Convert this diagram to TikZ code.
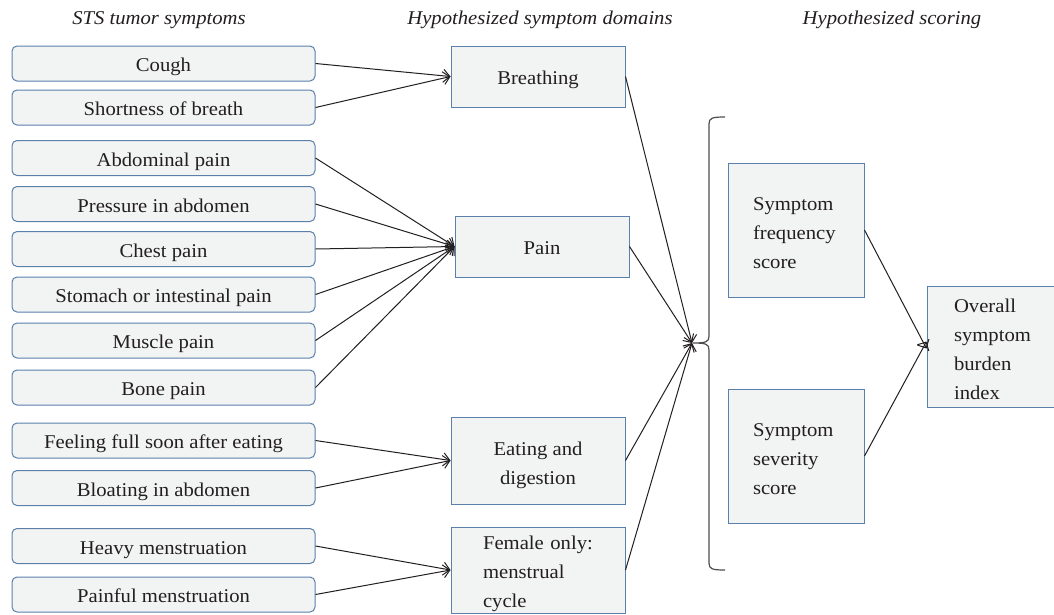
\documentclass[tikz,border=0pt]{standalone}
\usepackage{fontspec}
\setmainfont[FakeStretch=1.06]{Liberation Serif}
\usetikzlibrary{arrows.meta}
\definecolor{boxfill}{HTML}{F2F3F3}
\definecolor{boxline}{HTML}{5B80AC}
\definecolor{ink}{HTML}{231F20}
\newcommand{\topgap}[1]{\rule{0pt}{#1}}
\begin{document}
\begin{tikzpicture}[x=1pt,y=-1pt,
  every node/.style={font=\fontsize{19.5}{29}\selectfont, text=ink},
  sym/.style={draw=boxline, fill=boxfill, line width=1pt, rounded corners=5pt,
    minimum width=303pt, minimum height=35pt, inner sep=0pt,
    text height=16pt, text depth=0pt},
  dom/.style={draw=boxline, fill=boxfill, line width=1pt,
    minimum width=174pt, inner sep=0pt},
  oneline/.style={text height=16pt, text depth=0pt},
  score/.style={draw=boxline, fill=boxfill, line width=1pt,
    minimum width=136pt, minimum height=134pt, inner xsep=25pt, inner ysep=0pt,
    text width=86pt, align=left},
  title/.style={font=\fontsize{19.5}{24}\itshape\selectfont},
  conn/.style={draw=ink, line width=1pt, -{Straight Barb[length=6.5pt,width=13pt]}}]
\useasboundingbox (0,0) rectangle (1054,614);
\fill[white] (0,0) rectangle (1054,614);

\node[title] (t1) at (159,20) {STS tumor symptoms};
\node[title] (t2) at (540,20) {Hypothesized symptom domains};
\node[title] (t3) at (892,20) {Hypothesized scoring};

\node[sym] (cough) at (163.5,63.5) {Cough};
\node[sym] (sob) at (163.5,107.5) {Shortness of breath};
\node[sym] (abd) at (163.5,158) {Abdominal pain};
\node[sym] (press) at (163.5,204) {Pressure in abdomen};
\node[sym] (chest) at (163.5,249) {Chest pain};
\node[sym] (stom) at (163.5,294.5) {Stomach or intestinal pain};
\node[sym] (musc) at (163.5,340.5) {Muscle pain};
\node[sym] (bone) at (163.5,387.5) {Bone pain};
\node[sym] (full) at (163.5,440.5) {Feeling full soon after eating};
\node[sym] (bloat) at (163.5,488) {Bloating in abdomen};
\node[sym] (heavy) at (163.5,546) {Heavy menstruation};
\node[sym] (painm) at (163.5,594.5) {Painful menstruation};

\node[dom, oneline, minimum height=61pt] (breath) at (538,76.5) {Breathing};
\node[dom, oneline, minimum height=61pt] (pain) at (542,246.5) {Pain};
\node[dom, minimum height=87pt, align=center] (eat) at (538,460.5) {\topgap{24pt}Eating and\\digestion};
\node[dom, minimum height=86pt, inner xsep=32pt, text width=110pt, align=left] (fem) at (538,570) {\topgap{22pt}Female only:\\menstrual\\cycle};

\node[score] (freq) at (796,230) {\topgap{20pt}Symptom\\frequency\\score};
\node[score] (sev) at (796,456) {\topgap{20pt}Symptom\\severity\\score};
\node[draw=boxline, fill=boxfill, line width=1pt, minimum width=133pt, minimum height=121pt,
  inner xsep=27pt, inner ysep=0pt, text width=79pt, align=left] (over) at (993.5,346.5)
  {\topgap{19pt}Overall\\symptom\\burden\\index};

\coordinate (hub) at (692,343);

\foreach \s in {cough,sob} \draw[conn] (\s.east) -- (breath.west);
\foreach \s in {abd,press,chest,stom,musc,bone} \draw[conn] (\s.east) -- (pain.west);
\foreach \s in {full,bloat} \draw[conn] (\s.east) -- (eat.west);
\foreach \s in {heavy,painm} \draw[conn] (\s.east) -- (fem.west);
\foreach \s in {breath,pain,eat,fem} \draw[conn] (\s.east) -- (hub);

% brace
\draw[draw=ink!80, line width=1.2pt] (725,117) .. controls (712,117) and (709,118) .. (709,124)
  -- (709,336) .. controls (709,342) and (706,343) .. (693,343)
  .. controls (706,343) and (709,344) .. (709,350)
  -- (709,563) .. controls (709,569) and (712,570) .. (725,570);

\draw[conn] (freq.east) -- ([yshift=-2pt]over.west);
\draw[conn] (sev.east) -- ([yshift=5pt]over.west);
\end{tikzpicture}
\end{document}
